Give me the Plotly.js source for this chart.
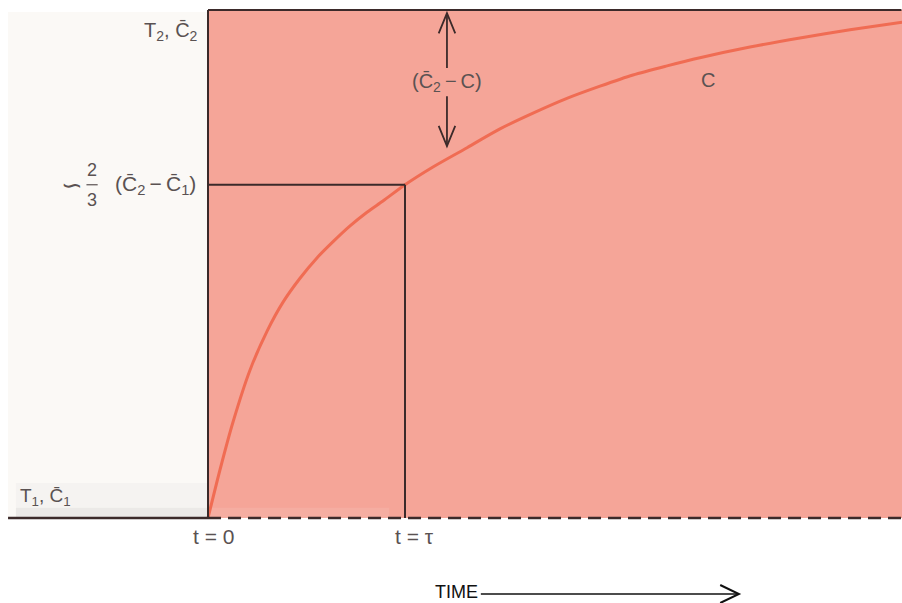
<!DOCTYPE html>
<html><head><meta charset="utf-8">
<script src="https://cdn.plot.ly/plotly-3.0.1.min.js"></script>
<style>html,body{margin:0;padding:0;background:#fff;}#chart{width:902px;height:603px;}</style>
</head><body><div id="chart"></div>
<script>
// Time in units of tau, concentration as fraction of (C2 - C1)
const timeVals = [0, 0.061, 0.127, 0.213, 0.300, 0.381, 0.467, 0.553, 0.635, 0.721, 0.807, 0.888, 1.0,
  1.142, 1.315, 1.482, 1.650, 1.822, 1.990, 2.157, 2.330, 2.497, 2.751, 3.005, 3.259, 3.523];
const concVals = [0, 0.095, 0.189, 0.291, 0.368, 0.425, 0.472, 0.512, 0.544, 0.575, 0.602, 0.624, 0.656,
  0.691, 0.729, 0.766, 0.797, 0.826, 0.850, 0.872, 0.890, 0.906, 0.927, 0.945, 0.961, 0.976];
const tau = 1.0;
const levelTau = 0.656;   // ~2/3 (C2 - C1)
const tEnd = 3.53;

const Cb = "C\u0304";
const lineCol = "#3b2a2a";
const txtCol = "#5a5252";
const FAM = "Liberation Sans, Arial, sans-serif";
const font = {family: FAM, size: 20, color: txtCol};
const fs = s => ({family: FAM, size: s, color: txtCol});

const xr = [-1.0558, 3.5228];
const yr = [-0.1673, 1.0197];
const gx = 1.213; // x of the (C2 - C) arrows

const shapes = [
  {type:"rect", xref:"x", yref:"y", x0:-1.015, x1:0, y0:0, y1:0.996, fillcolor:"#fbf9f6", line:{width:0}, layer:"below"},
  {type:"rect", xref:"x", yref:"y", x0:-0.975, x1:0, y0:0.02, y1:0.069, fillcolor:"#f5f3f1", line:{width:0}, layer:"below"},
  {type:"rect", xref:"x", yref:"y", x0:-0.975, x1:0, y0:0, y1:0.02, fillcolor:"#ebe9e7", line:{width:0}, layer:"below"},
  {type:"rect", xref:"x", yref:"y", x0:0, x1:4, y0:0, y1:1, fillcolor:"#f5a598", line:{width:0}, layer:"below"},
  {type:"rect", xref:"x", yref:"y", x0:0, x1:0.92, y0:0, y1:0.02, fillcolor:"#f5ada1", line:{width:0}, layer:"below"},
  // frame
  {type:"line", xref:"x", yref:"y", x0:0, x1:tEnd-0.01, y0:1, y1:1, line:{color:lineCol, width:2}},
  {type:"line", xref:"x", yref:"y", x0:0, x1:0, y0:0, y1:1, line:{color:lineCol, width:2}},
  // tau box
  {type:"line", xref:"x", yref:"y", x0:0, x1:tau, y0:levelTau, y1:levelTau, line:{color:lineCol, width:2}},
  {type:"line", xref:"x", yref:"y", x0:tau, x1:tau, y0:0, y1:levelTau, line:{color:lineCol, width:2}},
  // baseline
  {type:"line", xref:"x", yref:"y", x0:-1.015, x1:0, y0:0, y1:0, line:{color:lineCol, width:2.5}},
  {type:"line", xref:"x", yref:"y", x0:0, x1:4, y0:0, y1:0, line:{color:lineCol, width:2.5, dash:"13px,7px"}},
  // (C2 - C) arrows
  {type:"line", xref:"x", yref:"y", x0:gx, x1:gx, y0:0.886, y1:0.994, line:{color:lineCol, width:1.8}},
  {type:"path", xref:"x", yref:"y", path:`M ${gx-0.042},${0.994-0.04} L ${gx},0.994 L ${gx+0.042},${0.994-0.04}`, line:{color:lineCol, width:1.8}},
  {type:"line", xref:"x", yref:"y", x0:gx, x1:gx, y0:0.830, y1:0.732, line:{color:lineCol, width:1.8}},
  {type:"path", xref:"x", yref:"y", path:`M ${gx-0.042},${0.732+0.04} L ${gx},0.732 L ${gx+0.042},${0.732+0.04}`, line:{color:lineCol, width:1.8}},
  // TIME arrow
  {type:"line", xref:"x", yref:"y", x0:1.385, x1:2.69, y0:-0.1496, y1:-0.1496, line:{color:"#111", width:1.5}},
  {type:"path", xref:"x", yref:"y", path:"M 2.6,-0.1319 L 2.695,-0.1496 L 2.6,-0.1673", line:{color:"#111", width:2}},
  // fraction bar
  {type:"line", xref:"x", yref:"y", x0:-0.617, x1:-0.56, y0:levelTau, y1:levelTau, line:{color:txtCol, width:1.2}}
];

const ann = (x, y, text, opts={}) => Object.assign({xref:"x", yref:"y", x, y, text, showarrow:false, font}, opts);

const annotations = [
  ann(-0.04, 0.958, "T<sub>2</sub>, " + Cb + "<sub>2</sub>", {xanchor:"right", font:fs(20)}),
  ann(-0.05, levelTau, "(" + Cb + "<sub>2</sub>\u2009\u2212\u2009" + Cb + "<sub>1</sub>)", {xanchor:"right", font:fs(21)}),
  ann(-0.589, levelTau + 0.03, "2", {font:fs(18)}),
  ann(-0.589, levelTau - 0.03, "3", {font:fs(18)}),
  ann(-0.69, levelTau, "\u223D", {font:fs(26)}),
  ann(-0.965, 0.042, "T<sub>1</sub>, " + Cb + "<sub>1</sub>", {xanchor:"left", font:fs(19)}),
  ann(0.03, -0.037, "t = 0", {font:fs(21)}),
  ann(tau + 0.05, -0.037, "t = \u03C4", {font:fs(21)}),
  ann(gx, 0.858, "(" + Cb + "<sub>2</sub>\u2009\u2212\u2009C)", {font:fs(20)}),
  ann(2.538, 0.862, "C", {font:fs(20)}),
  ann(1.38, -0.1456, "TIME", {xanchor:"right", font:{family:FAM, size:18, color:"#111"}})
];

const data = [{
  x: timeVals, y: concVals, type:"scatter", mode:"lines",
  line:{color:"#f06c53", width:3, shape:"spline", smoothing:0.8},
  hoverinfo:"skip"
}];

const layout = {
  width:902, height:603,
  margin:{l:0, r:0, t:0, b:0},
  paper_bgcolor:"#ffffff", plot_bgcolor:"#ffffff",
  showlegend:false,
  xaxis:{range:xr, visible:false, fixedrange:true},
  yaxis:{range:yr, visible:false, fixedrange:true},
  shapes, annotations
};

Plotly.newPlot("chart", data, layout, {staticPlot:true, displayModeBar:false});
</script></body></html>
